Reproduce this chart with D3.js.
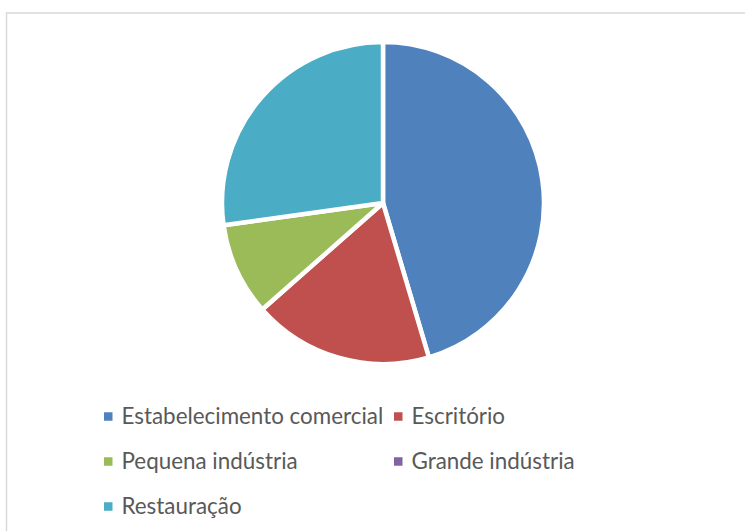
<!DOCTYPE html>
<html>
<head>
<meta charset="utf-8">
<script src="https://cdn.jsdelivr.net/npm/d3@7"></script>
<style>
  body { margin: 0; background: #fff; }
  svg { display: block; }
</style>
</head>
<body>
<div id="chart"></div>
<script>
var categories = ["Estabelecimento comercial", "Escritório", "Pequena indústria", "Grande indústria", "Restauração"];
var values = [45.4, 18.1, 9.3, 0, 27.2];
var colors = ["#4F81BD", "#C0504D", "#9BBB59", "#8064A2", "#4BACC6"];

var width = 745, height = 531;

var svg = d3.select("#chart").append("svg")
    .attr("width", width)
    .attr("height", height);

// chart area border
svg.append("rect")
    .attr("x", 6.5)
    .attr("y", 13)
    .attr("width", width + 10)
    .attr("height", height + 10)
    .attr("fill", "#fff")
    .attr("stroke", "#d9d9d9")
    .attr("stroke-width", 1.5);

var data = categories.map(function(c, i) {
    return {name: c, value: values[i], color: colors[i]};
});

var pie = d3.pie()
    .sort(null)
    .value(function(d) { return d.value; });

var arc = d3.arc()
    .innerRadius(0)
    .outerRadius(161);

var g = svg.append("g")
    .attr("transform", "translate(383,203)");

g.selectAll("path")
    .data(pie(data).filter(function(d) { return d.data.value > 0; }))
    .enter().append("path")
    .attr("d", arc)
    .attr("fill", function(d) { return d.data.color; })
    .attr("stroke", "#fff")
    .attr("stroke-width", 4.5)
    .attr("stroke-linejoin", "round");

// legend
var colX = [104, 394];
var rowY = 416.5, rowStep = 45;

var item = svg.selectAll(".legend")
    .data(data)
    .enter().append("g")
    .attr("class", "legend")
    .attr("transform", function(d, i) {
        return "translate(" + colX[i % 2] + "," + (rowY + Math.floor(i / 2) * rowStep) + ")";
    });

item.append("rect")
    .attr("x", 0)
    .attr("y", -4.25)
    .attr("width", 8.5)
    .attr("height", 8.5)
    .attr("fill", function(d) { return d.color; });

item.append("text")
    .attr("x", 17.5)
    .attr("y", 7.8)
    .style("font-family", "Lato, 'Open Sans', sans-serif")
    .style("font-size", "22.4px")
    .style("fill", "#595959")
    .text(function(d) { return d.name; });
</script>
</body>
</html>
